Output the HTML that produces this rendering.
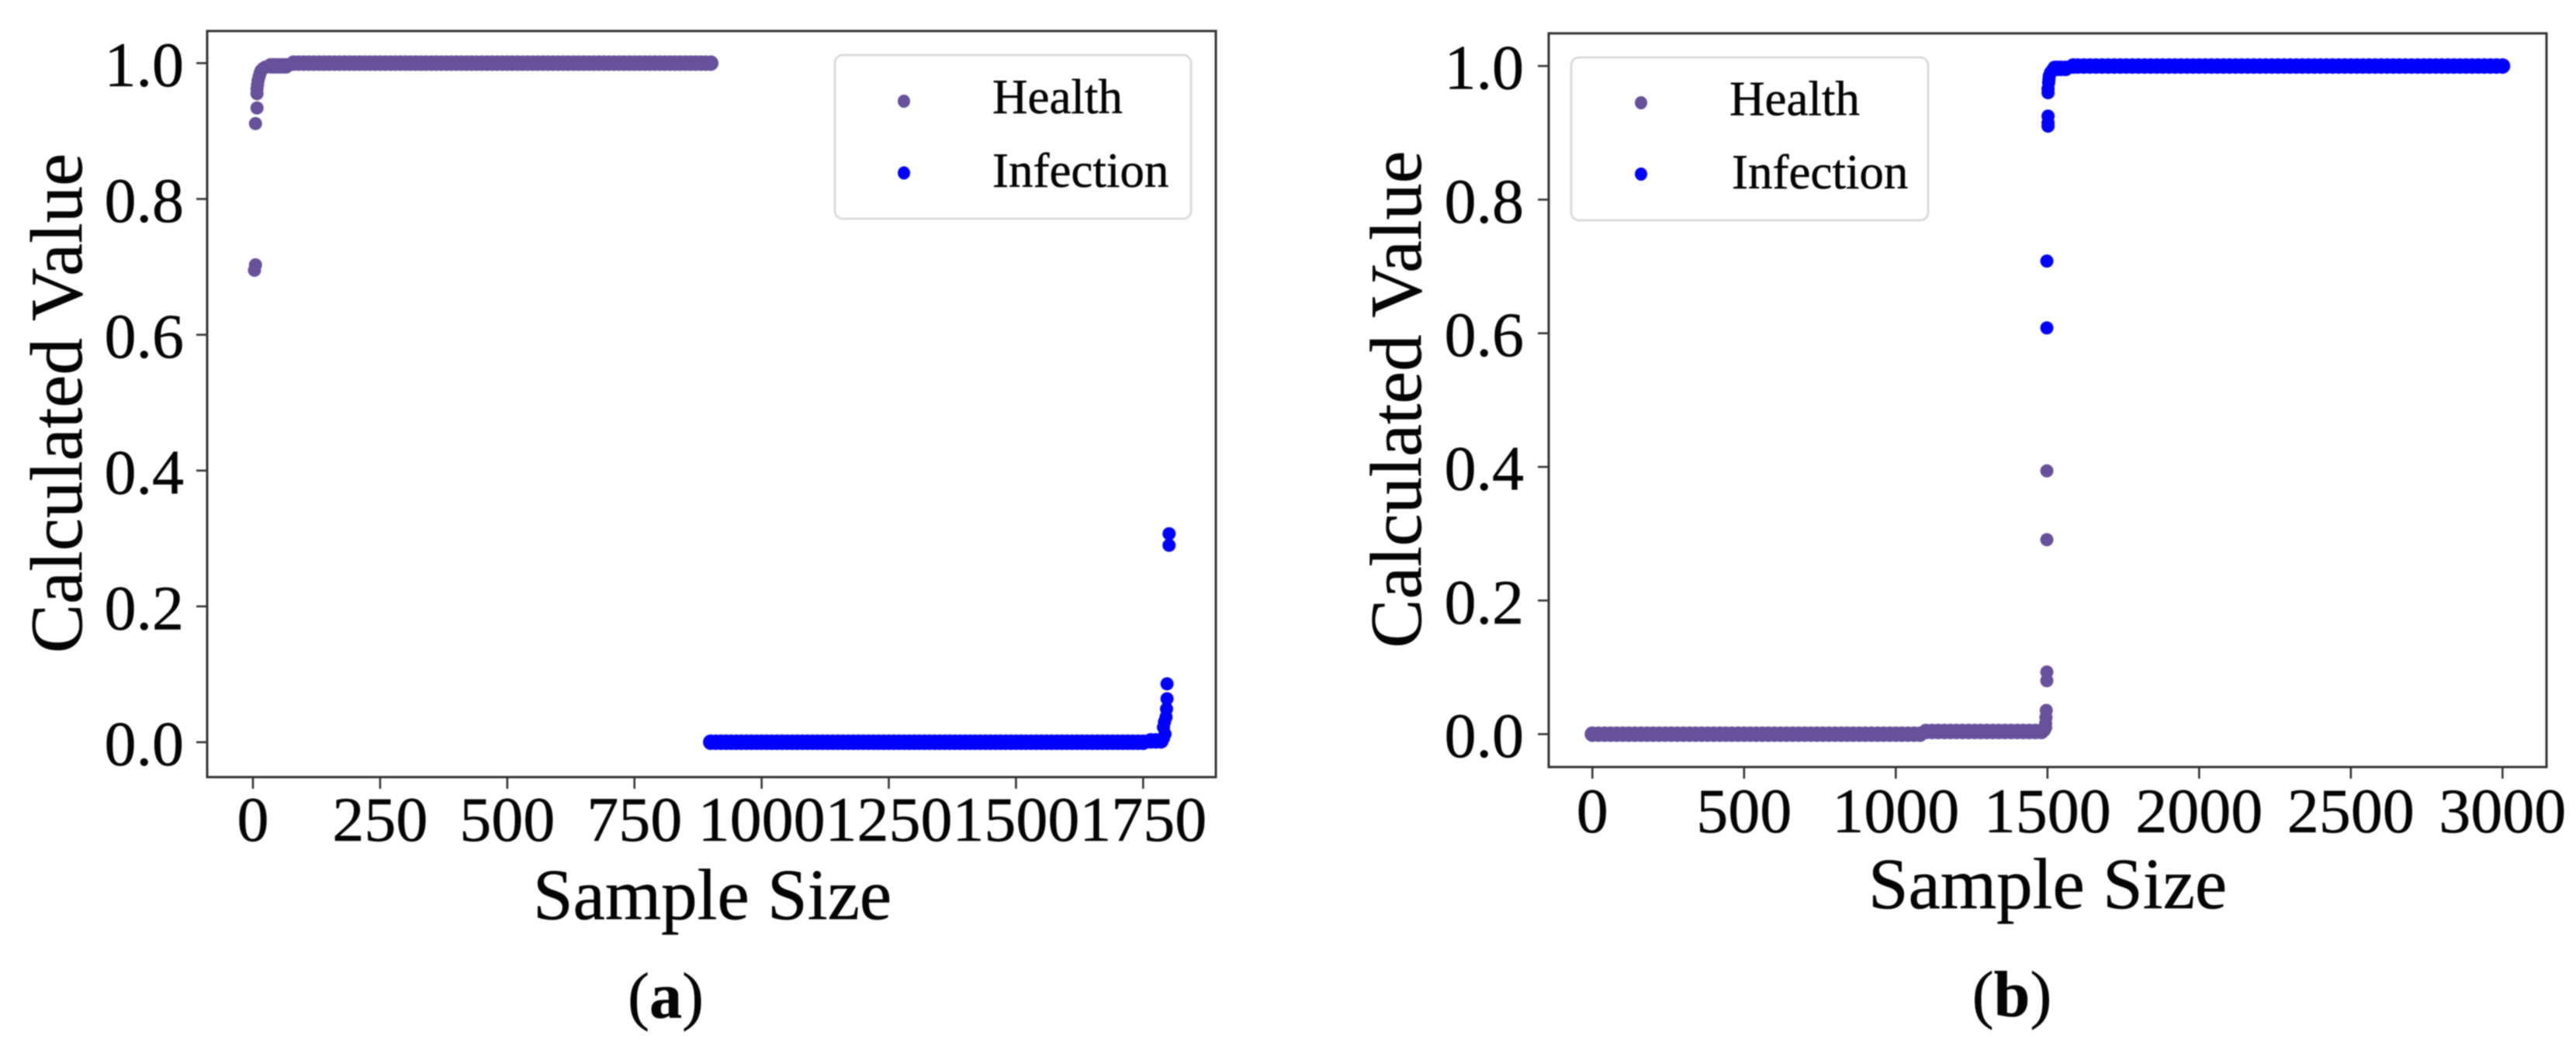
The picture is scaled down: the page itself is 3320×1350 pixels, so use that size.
<!DOCTYPE html>
<html lang="en">
<head>
<meta charset="utf-8">
<title>Calculated Value vs Sample Size</title>
<style>
html,body{margin:0;padding:0;background:#fff;width:3320px;height:1350px;overflow:hidden}
svg{display:block;filter:blur(0.9px)}
text{font-family:"Liberation Serif","Times New Roman",serif;fill:#050505;stroke:#050505;stroke-width:0.5px}
</style>
</head>
<body>
<svg id="figure" xmlns="http://www.w3.org/2000/svg" width="3320" height="1350" viewBox="0 0 3320 1350">
  <rect width="3320" height="1350" fill="#fff"/>
  <g id="panel-a">
    <text transform="translate(105,520) rotate(-90)" text-anchor="middle" font-size="95">Calculated Value</text>
    <text x="918" y="1185" text-anchor="middle" font-size="93">Sample Size</text>
    <text x="858" y="1312" text-anchor="middle" font-size="84">(<tspan font-weight="bold">a</tspan>)</text>
  </g>
  <g id="panel-b">
    <text transform="translate(1831,515) rotate(-90)" text-anchor="middle" font-size="94.5">Calculated Value</text>
    <text x="2639" y="1171" text-anchor="middle" font-size="93">Sample Size</text>
    <text x="2593" y="1310" text-anchor="middle" font-size="84">(<tspan font-weight="bold">b</tspan>)</text>
  </g>
</svg>
<script>
// Axis ticks
const xTicksA = [0, 250, 500, 750, 1000, 1250, 1500, 1750];
const xTicksB = [0, 500, 1000, 1500, 2000, 2500, 3000];
const yTicks = [0, 0.2, 0.4, 0.6, 0.8, 1.0];
const yTickLabels = ['0.0', '0.2', '0.4', '0.6', '0.8', '1.0'];
const seriesNames = ['Health', 'Infection'];

// Panel (a) Health
const healthXA = [3,5,5,8,8,8,9,10,12,14,16,20,24,30,35,40,45,50,55,60,65,80,90,100,110,120,130,140,150,160,170,180,190,200,210,220,230,240,250,260,270,280,290,300,310,320,330,340,350,360,370,380,390,400,410,420,430,440,450,460,470,480,490,500,510,520,530,540,550,560,570,580,590,600,610,620,630,640,650,660,670,680,690,700,710,720,730,740,750,760,770,780,790,800,810,820,830,840,850,860,870,880,890,900];
const healthYA = [0.695,0.703,0.911,0.934,0.955,0.962,0.968,0.974,0.98,0.985,0.989,0.992,0.994,0.995,0.996,0.996,0.996,0.996,0.996,0.996,0.996,1,1,1,1,1,1,1,1,1,1,1,1,1,1,1,1,1,1,1,1,1,1,1,1,1,1,1,1,1,1,1,1,1,1,1,1,1,1,1,1,1,1,1,1,1,1,1,1,1,1,1,1,1,1,1,1,1,1,1,1,1,1,1,1,1,1,1,1,1,1,1,1,1,1,1,1,1,1,1,1,1,1,1];

// Panel (a) Infection
const infectionXA = [900,910,920,930,940,950,960,970,980,990,1000,1010,1020,1030,1040,1050,1060,1070,1080,1090,1100,1110,1120,1130,1140,1150,1160,1170,1180,1190,1200,1210,1220,1230,1240,1250,1260,1270,1280,1290,1300,1310,1320,1330,1340,1350,1360,1370,1380,1390,1400,1410,1420,1430,1440,1450,1460,1470,1480,1490,1500,1510,1520,1530,1540,1550,1560,1570,1580,1590,1600,1610,1620,1630,1640,1650,1660,1670,1680,1690,1700,1710,1720,1730,1740,1750,1765,1775,1785,1790,1793,1790,1792,1795,1796,1797,1797,1801,1801];
const infectionYA = [0,0,0,0,0,0,0,0,0,0,0,0,0,0,0,0,0,0,0,0,0,0,0,0,0,0,0,0,0,0,0,0,0,0,0,0,0,0,0,0,0,0,0,0,0,0,0,0,0,0,0,0,0,0,0,0,0,0,0,0,0,0,0,0,0,0,0,0,0,0,0,0,0,0,0,0,0,0,0,0,0,0,0,0,0,0,0.002,0.002,0.002,0.006,0.012,0.022,0.03,0.037,0.049,0.064,0.086,0.29,0.307];

// Panel (b) Health
const healthXB = [0,20,40,60,80,100,120,140,160,180,200,220,240,260,280,300,320,340,360,380,400,420,440,460,480,500,520,540,560,580,600,620,640,660,680,700,720,740,760,780,800,820,840,860,880,900,920,940,960,980,1000,1020,1040,1060,1080,1100,1120,1140,1160,1180,1200,1220,1240,1260,1280,1300,1320,1340,1360,1380,1400,1420,1440,1460,1480,1490,1494,1494,1495,1496,1498,1498,1498,1498];
const healthYB = [0,0,0,0,0,0,0,0,0,0,0,0,0,0,0,0,0,0,0,0,0,0,0,0,0,0,0,0,0,0,0,0,0,0,0,0,0,0,0,0,0,0,0,0,0,0,0,0,0,0,0,0,0,0,0,0.004,0.004,0.004,0.004,0.004,0.004,0.004,0.004,0.004,0.004,0.004,0.004,0.004,0.004,0.004,0.004,0.004,0.004,0.004,0.004,0.006,0.01,0.016,0.025,0.0355,0.08,0.093,0.291,0.394];

// Panel (b) Infection
const infectionXB = [1498,1498,1502,1502,1502,1502,1502,1504,1505,1506,1510,1515,1525,1535,1545,1560,1585,1600,1620,1640,1660,1680,1700,1720,1740,1760,1780,1800,1820,1840,1860,1880,1900,1920,1940,1960,1980,2000,2020,2040,2060,2080,2100,2120,2140,2160,2180,2200,2220,2240,2260,2280,2300,2320,2340,2360,2380,2400,2420,2440,2460,2480,2500,2520,2540,2560,2580,2600,2620,2640,2660,2680,2700,2720,2740,2760,2780,2800,2820,2840,2860,2880,2900,2920,2940,2960,2980,3000];
const infectionYB = [0.608,0.708,0.91,0.915,0.925,0.96,0.966,0.975,0.98,0.985,0.99,0.993,0.9965,0.9965,0.9965,0.9965,1,1,1,1,1,1,1,1,1,1,1,1,1,1,1,1,1,1,1,1,1,1,1,1,1,1,1,1,1,1,1,1,1,1,1,1,1,1,1,1,1,1,1,1,1,1,1,1,1,1,1,1,1,1,1,1,1,1,1,1,1,1,1,1,1,1,1,1,1,1,1,1];

const NS = 'http://www.w3.org/2000/svg';
const HEALTH_COLOR = '#67519b';
const INFECTION_COLOR = '#0000ff';
const DOT_R = 8.5;
const RUN_R = 10;

function make(tag, attrs, parent) {
  const node = document.createElementNS(NS, tag);
  for (const k in attrs) node.setAttribute(k, attrs[k]);
  parent.appendChild(node);
  return node;
}

// Points sitting in a flat run overlap into a solid band, which reads slightly thicker
function markerRadius(ys, i) {
  const flat = (i > 0 && ys[i - 1] === ys[i]) || (i < ys.length - 1 && ys[i + 1] === ys[i]);
  return flat ? RUN_R : DOT_R;
}

function drawScatter(parent, xs, ys, color, xScale, yScale) {
  const group = make('g', {fill: color}, parent);
  
  
  xs.forEach(function (x, i) {
    const dot = make('circle', {cx: xScale(x), cy: yScale(ys[i]), r: markerRadius(ys, i)}, group);
    
    
  });
}

function drawAxes(parent, box, xTicks, xScale, yScale, labelSize) {
  xTicks.forEach(function (t) {
    const tick = make('line', {x1: xScale(t), x2: xScale(t), y1: box.bottom, y2: box.bottom + 15, stroke: '#333', 'stroke-width': 2.6}, parent);
    
    
    const label = make('text', {x: xScale(t), y: box.xLabelY, 'text-anchor': 'middle', 'font-size': labelSize}, parent);
    
    
    label.textContent = String(t);
  });
  yTicks.forEach(function (t, i) {
    const tick = make('line', {x1: box.left - 14, x2: box.left, y1: yScale(t), y2: yScale(t), stroke: '#333', 'stroke-width': 2.6}, parent);
    
    
    const label = make('text', {x: box.yLabelX, y: yScale(t) + 29.5, 'text-anchor': 'end', 'font-size': labelSize}, parent);
    
    
    label.textContent = yTickLabels[i];
  });
  const frame = make('rect', {x: box.left, y: box.top, width: box.right - box.left, height: box.bottom - box.top, fill: 'none', stroke: '#333', 'stroke-width': 3}, parent);
  
  
}

function drawLegend(parent, lg) {
  const frame = make('rect', {x: lg.x, y: lg.y, width: lg.w, height: lg.h, rx: 10, fill: '#fff', stroke: '#dcdcdc', 'stroke-width': 3}, parent);
  
  
  const colors = [HEALTH_COLOR, INFECTION_COLOR];
  seriesNames.forEach(function (name, i) {
    const dot = make('ellipse', {cx: lg.dotX, cy: lg.dotY[i], rx: 8, ry: 8.5, fill: colors[i]}, parent);
    
    
    const label = make('text', {x: lg.textX[i], y: lg.textY[i], 'font-size': 63}, parent);
    
    
    label.textContent = name;
  });
}

// Panel (a)
const xScaleA = function (v) { return 326 + v * 0.6556; };
const yScaleA = function (v) { return 957 - v * 875.6; };
const panelA = document.getElementById('panel-a');
drawScatter(panelA, healthXA, healthYA, HEALTH_COLOR, xScaleA, yScaleA);
drawScatter(panelA, infectionXA, infectionYA, INFECTION_COLOR, xScaleA, yScaleA);
drawAxes(panelA, {left: 267, right: 1567, top: 40, bottom: 1002, xLabelY: 1084, yLabelX: 237}, xTicksA, xScaleA, yScaleA, 82);
drawLegend(panelA, {x: 1076, y: 71, w: 459, h: 211, dotX: 1165, dotY: [130.5, 223], textX: [1279, 1279], textY: [146, 241]});

// Panel (b)
const xScaleB = function (v) { return 2052.3 + v * 0.391; };
const yScaleB = function (v) { return 946.6 - v * 861.5; };
const panelB = document.getElementById('panel-b');
drawScatter(panelB, healthXB, healthYB, HEALTH_COLOR, xScaleB, yScaleB);
drawScatter(panelB, infectionXB, infectionYB, INFECTION_COLOR, xScaleB, yScaleB);
drawAxes(panelB, {left: 1996, right: 3282, top: 43, bottom: 989, xLabelY: 1073, yLabelX: 1964}, xTicksB, xScaleB, yScaleB, 82);
drawLegend(panelB, {x: 2025, y: 74, w: 460, h: 210, dotX: 2115, dotY: [132.5, 224.5], textX: [2229, 2232], textY: [148.5, 243]});
</script>
</body>
</html>
